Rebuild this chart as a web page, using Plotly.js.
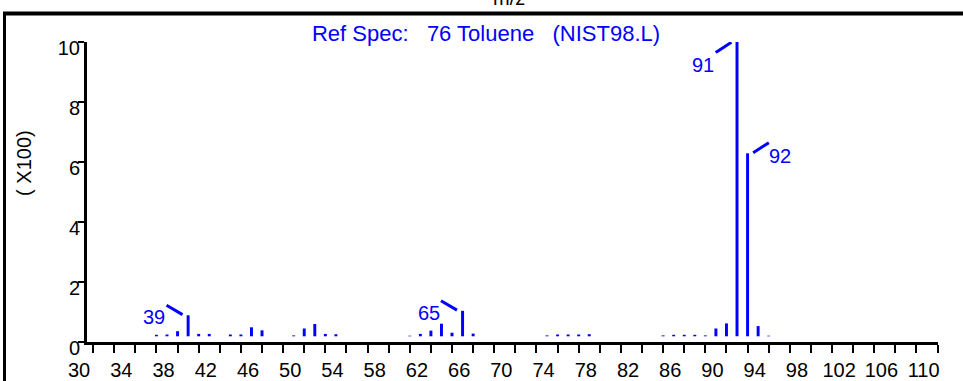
<!DOCTYPE html>
<html><head><meta charset="utf-8">
<script src="https://cdn.plot.ly/plotly-3.0.1.min.js"></script>
<style>html,body{margin:0;padding:0;background:#fff;} #chart{width:963px;height:381px;}</style>
</head><body><div id="chart"></div>
<script>
// ---- data ----
const mz = [36,37,38,39,40,41,43,44,45,46,49,50,51,52,53,60,61,62,63,64,65,66,73,74,75,76,77,84,85,86,87,88,89,90,91,92,93,94];
const intensity = [0.24,0.25,0.36,0.89,0.27,0.27,0.25,0.25,0.49,0.39,0.22,0.45,0.60,0.27,0.26,0.21,0.27,0.38,0.61,0.31,1.04,0.28,0.22,0.25,0.25,0.25,0.26,0.22,0.24,0.24,0.24,0.22,0.45,0.62,10.0,6.29,0.53,0.21];
const labeledPeaks = [39,65,91,92];
const xTickLabels = [30,34,38,42,46,50,54,58,62,66,70,74,78,82,86,90,94,98,102,106,110];
const yTickLabels = [0,2,4,6,8,10];
const titleText = 'Ref Spec:\u00a0\u00a0 76 Toluene\u00a0\u00a0 (NIST98.L)';
const xLabel = 'm/z';
const yLabel = '( X100)';

// ---- styles ----
const BLUE = '#0000ff';
const FONT = 'Liberation Sans, Arial, sans-serif';
const BASE = 0.19;
const placement = {39:'upLeft', 65:'upLeft', 91:'downLeft', 92:'upRight'};
const geom = {
  upLeft:   {lx:[-21.6,-5.6], ly:[10,0.7],   tx:-34,   ty:-2},
  downLeft: {lx:[-21.3,-5.6], ly:[-10.6,-0.3], tx:-34.3, ty:-23.3},
  upRight:  {lx:[5.6,21.3],   ly:[0.6,10.6], tx:32.8,  ty:-2.2}
};

const shapes = [];
const annotations = [];
labeledPeaks.forEach(p => {
  const i = mz.indexOf(p);
  const v = intensity[i];
  const g = geom[placement[p]];
  shapes.push({type:'line', xref:'x', yref:'y', xsizemode:'pixel', ysizemode:'pixel',
    xanchor:p, yanchor:v, x0:g.lx[0], x1:g.lx[1], y0:g.ly[0], y1:g.ly[1],
    line:{color:BLUE, width:3}});
  annotations.push({x:p, y:v, xref:'x', yref:'y', text:String(p), showarrow:false,
    xshift:g.tx, yshift:g.ty, xanchor:'center', yanchor:'middle',
    font:{family:FONT, size:20, color:BLUE}});
});
// frame lines
shapes.push({type:'line', xref:'paper', yref:'paper', xsizemode:'pixel', ysizemode:'pixel',
  xanchor:0, yanchor:1, x0:-84, x1:876, y0:28.5, y1:28.5, line:{color:'black', width:4}});
shapes.push({type:'line', xref:'paper', yref:'paper', xsizemode:'pixel', ysizemode:'pixel',
  xanchor:0, yanchor:1, x0:-82.5, x1:-82.5, y0:29, y1:-340, line:{color:'black', width:3}});

annotations.push({xref:'paper', yref:'paper', x:0.496, y:1, yshift:31, yanchor:'bottom', xanchor:'center',
  text:xLabel, showarrow:false, font:{family:FONT, size:20, color:'black'}});
annotations.push({xref:'paper', yref:'paper', x:-0.074, y:0.597, textangle:-90, xanchor:'center', yanchor:'middle',
  text:yLabel, showarrow:false, font:{family:FONT, size:20, color:'black'}});

const trace = {
  type:'bar', x:mz, y:intensity.map(v => v - BASE), base:BASE, width:0.28,
  marker:{color:BLUE, line:{width:0}}, hoverinfo:'none', cliponaxis:false
};

const layout = {
  width:963, height:381,
  margin:{l:87, r:25, t:42, b:39, pad:0},
  paper_bgcolor:'white', plot_bgcolor:'white',
  showlegend:false,
  title:{text:titleText, x:486/963, xref:'container', y:1-33/381, yref:'container',
    xanchor:'center', yanchor:'middle', font:{family:FONT, size:22, color:BLUE}},
  xaxis:{range:[29.42,110.04], tickvals:xTickLabels, ticktext:xTickLabels.map(String),
    ticks:'outside', ticklen:8, tickwidth:2, tickcolor:'black',
    minor:{tick0:30, dtick:2, ticks:'outside', ticklen:8, tickwidth:2, tickcolor:'black', showgrid:false},
    showline:true, linewidth:3, linecolor:'black', showgrid:false, zeroline:false,
    ticklabelshift:-14, tickfont:{family:FONT, size:20, color:'black'}},
  yaxis:{range:[0,10], tickvals:yTickLabels, ticktext:yTickLabels.map(String),
    ticks:'outside', ticklen:6, tickwidth:2, tickcolor:'black',
    showline:true, linewidth:3, linecolor:'black', showgrid:false, zeroline:false,
    ticklabelshift:6, ticklabelstandoff:-6, tickfont:{family:FONT, size:20, color:'black'}},
  shapes:shapes, annotations:annotations
};

Plotly.newPlot('chart', [trace], layout, {displayModeBar:false, staticPlot:true});
</script>
</body></html>
